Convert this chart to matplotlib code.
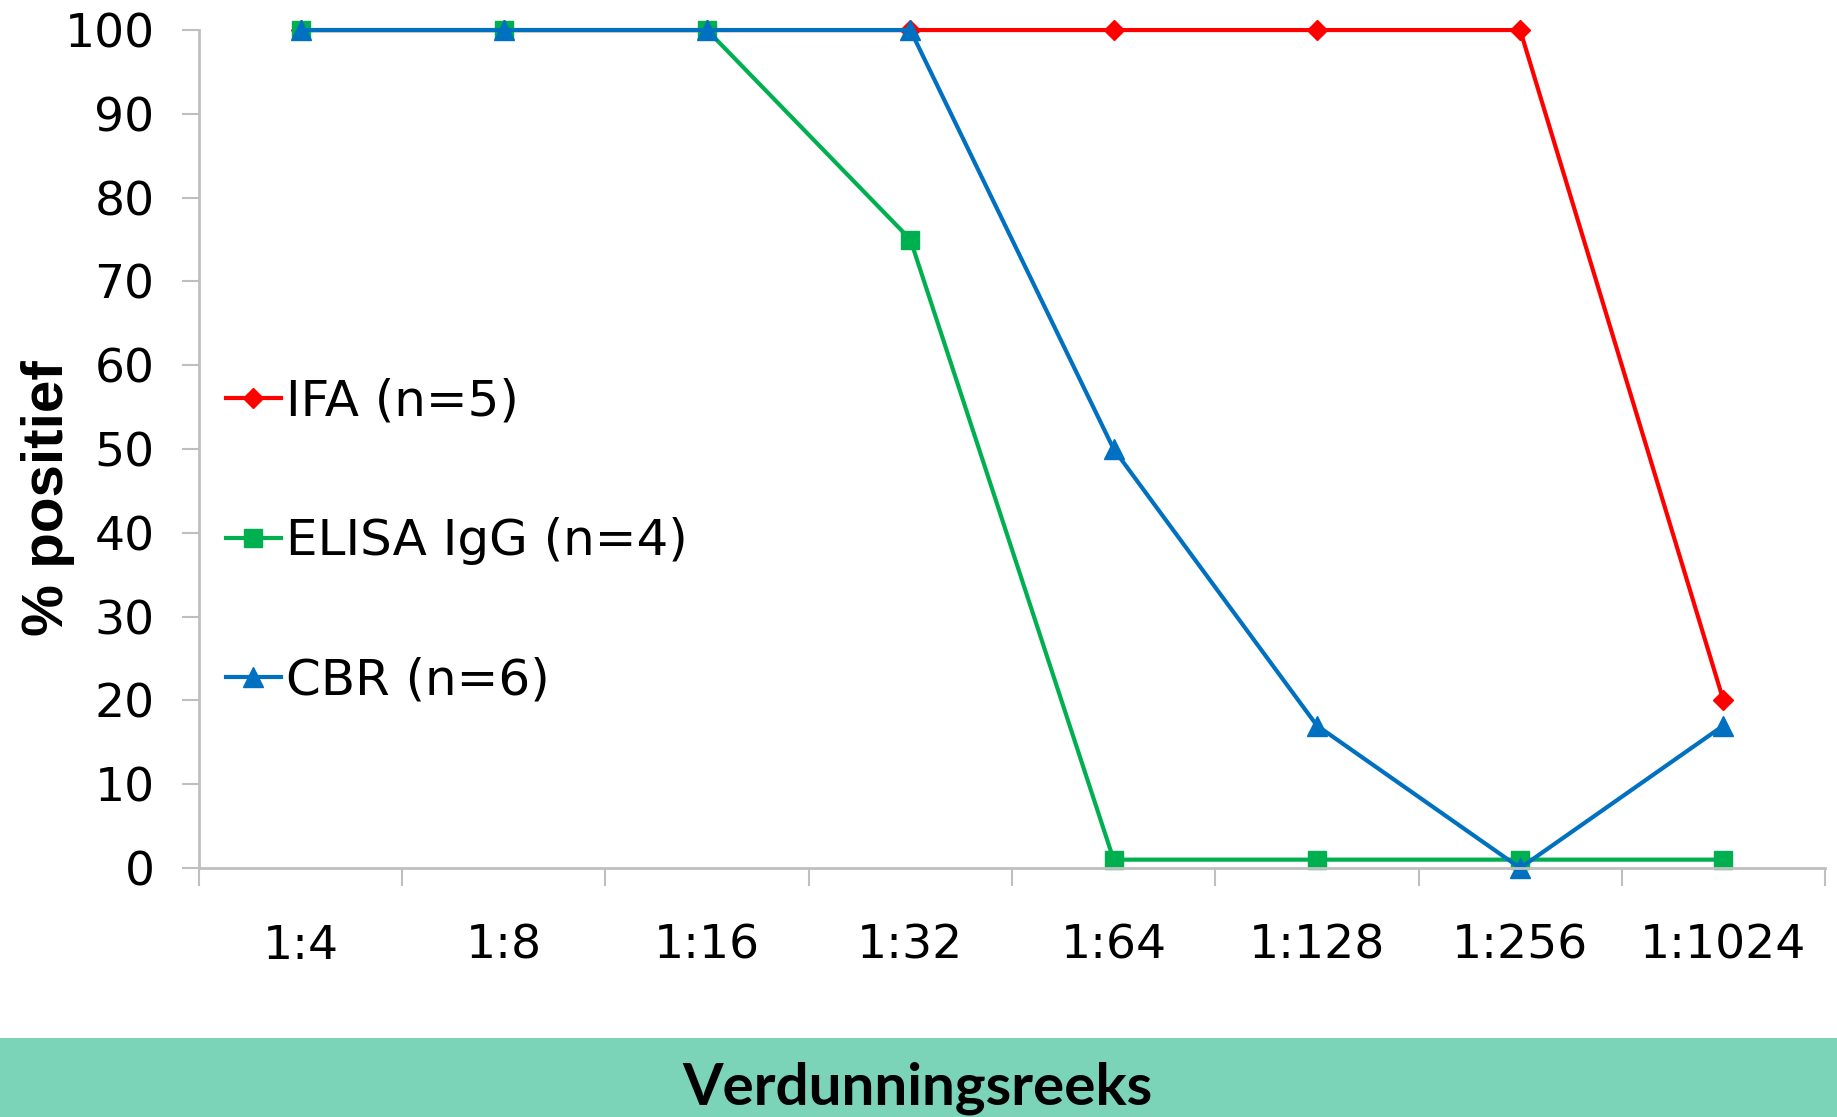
import numpy as np
import matplotlib
matplotlib.use("Agg")
import matplotlib.pyplot as plt
from matplotlib.patches import Rectangle

# data
dilutions = ["1:4", "1:8", "1:16", "1:32", "1:64", "1:128", "1:256", "1:1024"]
ifa = [100, 100, 100, 100, 100, 100, 100, 20]
elisa_igg = [100, 100, 100, 75, 1, 1, 1, 1]
cbr = [100, 100, 100, 100, 50, 17, 0, 17]

series_labels = ["IFA (n=5)", "ELISA IgG (n=4)", "CBR (n=6)"]
yticks = list(range(0, 101, 10))

GRAY = "#BFBFBF"

fig = plt.figure(figsize=(18.37, 11.17), dpi=100)
ax = fig.add_axes([0.1083, 0.2229, 0.8852, 0.7502])

x = np.arange(len(dilutions))
kw = dict(linewidth=3, clip_on=False)
ax.plot(x, ifa, color="#FF0000", marker="D", markersize=10, label=series_labels[0], **kw)
ax.plot(x, elisa_igg, color="#00B050", marker="s", markersize=13, label=series_labels[1], **kw)
ax.plot(x, cbr, color="#0070C0", marker="^", markersize=14, label=series_labels[2], **kw)

ax.set_xlim(-0.5, len(dilutions) - 0.5)
ax.set_ylim(0, 100)

# ticks between categories, labels centred on the categories
ax.set_xticks(np.arange(-0.5, len(dilutions)), labels=[])
ax.set_xticks(x, labels=dilutions, minor=True)
ax.set_yticks(yticks)

ax.tick_params(axis="x", which="major", direction="out", length=13, width=1.5, color=GRAY)
ax.tick_params(axis="x", which="minor", length=0, pad=40, labelsize=34)
ax.tick_params(axis="y", direction="out", length=12, width=1.5, color=GRAY, pad=20, labelsize=34)

for side in ["top", "right"]:
    ax.spines[side].set_visible(False)
for side in ["left", "bottom"]:
    ax.spines[side].set_color(GRAY)
    ax.spines[side].set_linewidth(2)

ax.legend(loc="center left", bbox_to_anchor=(0.0166, 0.39), frameon=False,
          fontsize=36, handlelength=1.1, handletextpad=0.1, labelspacing=1.83,
          borderpad=0, borderaxespad=0)

fig.text(0.026, 0.554, "% positief", rotation=90, ha="center", va="center",
         fontsize=42, fontweight="bold", family="Liberation Sans")

# teal band with the x-axis title
fig.patches.append(Rectangle((0, 0), 1, 0.0707, transform=fig.transFigure,
                             facecolor="#7BD3B8", edgecolor="none", zorder=0))
fig.text(0.4995, 0.011, "Verdunningsreeks", ha="center", va="baseline",
         fontsize=42, fontweight="bold", family="Lato")

fig.savefig("out.png", dpi=100)
